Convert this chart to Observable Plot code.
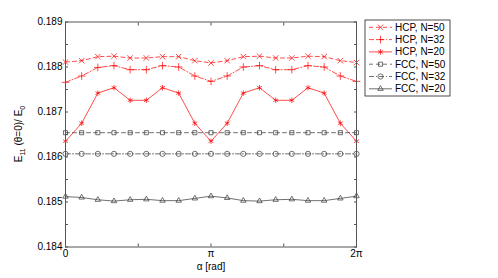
<!DOCTYPE html>
<html><head><meta charset="utf-8">
<script src="https://cdn.jsdelivr.net/npm/d3@7"></script>
<script src="https://cdn.jsdelivr.net/npm/@observablehq/plot@0.6"></script>
<style>
body{margin:0;background:#fff}
svg{font-family:"Liberation Sans",Arial,sans-serif}
</style>
</head><body><div id="chart"></div>
<script>
// angle samples (degrees), 0..360 step 20
const alphaDeg = [0,20,40,60,80,100,120,140,160,180,200,220,240,260,280,300,320,340,360];

const hcp50 = [0.18811,0.18814,0.18823,0.18824,0.18820,0.18820,0.18823,0.18823,0.18814,0.18809,0.18814,0.18823,0.18824,0.18820,0.18820,0.18824,0.18823,0.18814,0.18810];
const hcp32 = [0.18766,0.18780,0.18799,0.18803,0.18794,0.18794,0.18803,0.18800,0.18780,0.18768,0.18780,0.18800,0.18803,0.18794,0.18794,0.18803,0.18800,0.18780,0.18768];
const hcp20 = [0.18635,0.18675,0.18742,0.18754,0.18726,0.18726,0.18754,0.18742,0.18675,0.18635,0.18675,0.18742,0.18754,0.18726,0.18726,0.18754,0.18742,0.18675,0.18635];
const fcc50 = [0.18654,0.18654,0.18654,0.18654,0.18654,0.18654,0.18654,0.18654,0.18654,0.18654,0.18654,0.18654,0.18654,0.18654,0.18654,0.18654,0.18654,0.18654,0.18654];
const fcc32 = [0.18607,0.18607,0.18607,0.18607,0.18607,0.18607,0.18607,0.18607,0.18607,0.18607,0.18607,0.18607,0.18607,0.18607,0.18607,0.18607,0.18607,0.18607,0.18607];
const fcc20 = [0.18512,0.18510,0.18505,0.18502,0.18505,0.18506,0.18503,0.18503,0.18508,0.18513,0.18509,0.18503,0.18502,0.18505,0.18506,0.18503,0.18503,0.18508,0.18513];

const seriesNames = ["HCP, N=50","HCP, N=32","HCP, N=20","FCC, N=50","FCC, N=32","FCC, N=20"];
const seriesValues = [hcp50,hcp32,hcp20,fcc50,fcc32,fcc20];
const seriesColors = ["#ff0000","#ff0000","#ff0000","#333333","#333333","#333333"];
const seriesDash = ["4,3","5,2,1,2",null,"4,3","5,2,1,2",null];
const seriesSymbols = ["times","plus","asterisk","square2","circle","triangle2"];

const xTicks = [0, Math.PI/2, Math.PI, 3*Math.PI/2, 2*Math.PI];
const xTickLabels = ["0","","π","","2π"];
const yTicks = [0.184,0.1845,0.185,0.1855,0.186,0.1865,0.187,0.1875,0.188,0.1885,0.189];
const yTickLabels = ["0.184","","0.185","","0.186","","0.187","","0.188","","0.189"];

const toRad = d => d*Math.PI/180;

const marks = [];
seriesValues.forEach((vals, s) => {
  const data = vals.map((v,i)=>({x: toRad(alphaDeg[i]), y: v}));
  marks.push(Plot.line(data, {x:"x", y:"y", stroke: seriesColors[s], strokeWidth: 0.7, strokeDasharray: seriesDash[s]}));
  marks.push(Plot.dot(data, {x:"x", y:"y", stroke: seriesColors[s], strokeWidth: 0.7, symbol: seriesSymbols[s], r: 2.6, fill: "none"}));
});

const chart = Plot.plot({
  width: 498, height: 278,
  marginLeft: 65, marginRight: 142, marginTop: 21.5, marginBottom: 31.5,
  style: {fontSize: "10px", fontFamily: '"Liberation Sans",Arial,sans-serif', background: "white", color: "#000"},
  x: {domain: [0, 2*Math.PI]},
  y: {domain: [0.184, 0.189]},
  marks: [
    ...marks,
    Plot.frame({stroke: "#555", strokeWidth: 1}),
    Plot.axisX(xTicks, {anchor: "bottom", tickSize: -3, tickPadding: 6, stroke: "#555", tickFormat: (d,i) => xTickLabels[i], fill: "#000", label: null}),
    Plot.axisX(xTicks, {anchor: "top", tickSize: -3, stroke: "#555", tickFormat: () => "", label: null}),
    Plot.axisY(yTicks, {anchor: "left", tickSize: -3, tickPadding: 6, stroke: "#555", tickFormat: (d,i) => yTickLabels[i], fill: "#000", label: null}),
    Plot.axisY(yTicks, {anchor: "right", tickSize: -3, stroke: "#555", tickFormat: () => "", label: null})
  ]
});
document.getElementById("chart").appendChild(chart);

const svg = d3.select(chart);
// x label
svg.append("text").attr("x", 211).attr("y", 270).attr("text-anchor","middle")
  .attr("font-size", 10).attr("fill","#000").text("α [rad]");
// y label
const yl = svg.append("text").attr("transform","translate(22,134) rotate(-90)")
  .attr("text-anchor","middle").attr("font-size",10).attr("fill","#000");
yl.append("tspan").text("E");
yl.append("tspan").attr("font-size",7).attr("dy",3).text("11");
yl.append("tspan").attr("dy",-3).text(" (θ=0)/ E");
yl.append("tspan").attr("font-size",7).attr("dy",3).text("0");

// legend
const lg = svg.append("g").attr("transform","translate(365,20)");
lg.append("rect").attr("width",85).attr("height",76).attr("fill","white").attr("stroke","#222").attr("stroke-width",0.8);
const sym = {times: d3.symbolTimes, plus: d3.symbolPlus, asterisk: d3.symbolAsterisk, square2: d3.symbolSquare2, circle: d3.symbolCircle, triangle2: d3.symbolTriangle2};
seriesNames.forEach((name, s) => {
  const y = 7.3 + s*12.3;
  lg.append("line").attr("x1",4).attr("x2",27).attr("y1",y).attr("y2",y)
    .attr("stroke",seriesColors[s]).attr("stroke-width",0.7).attr("stroke-dasharray",seriesDash[s]);
  lg.append("path").attr("d", d3.symbol(sym[seriesSymbols[s]], Math.PI*2.6*2.6)())
    .attr("transform",`translate(15.5,${y})`).attr("fill","none").attr("stroke",seriesColors[s]).attr("stroke-width",0.7);
  lg.append("text").attr("x",30).attr("y",y).attr("dy","0.35em").attr("text-anchor","start")
    .attr("font-size",10).attr("fill","#000").text(name);
});
</script>
</body></html>
